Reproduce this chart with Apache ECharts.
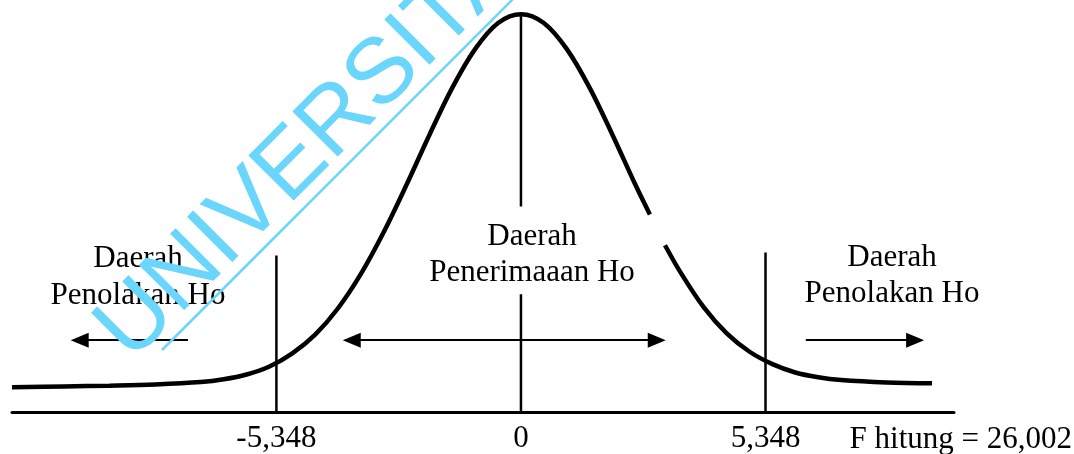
<!DOCTYPE html>
<html>
<head>
<meta charset="utf-8">
<script src="https://cdn.jsdelivr.net/npm/echarts@6/dist/echarts.min.js"></script>
<style>
html,body{margin:0;padding:0;background:#fff;}
#chart{width:1074px;height:454px;}
</style>
</head>
<body>
<div id="chart"></div>
<script>
// ---- data ----
const curveX = [-11.13, -10, -9, -8, -7, -6.5, -6, -5.5, -5, -4.5, -4, -3.5, -3, -2.5, -2, -1.5, -1, -0.5, 0, 0.5, 1, 1.5, 2, 2.5, 2.82, 2.98, 3.15, 3.5, 4, 4.5, 5, 5.5, 6, 6.5, 7, 8, 8.99];
const curveY = [0.062, 0.064, 0.066, 0.069, 0.075, 0.082, 0.094, 0.114, 0.147, 0.194, 0.260, 0.346, 0.451, 0.570, 0.695, 0.813, 0.910, 0.975, 0.997, 0.975, 0.910, 0.813, 0.695, 0.570, 0.495, null, 0.418, 0.348, 0.262, 0.197, 0.151, 0.120, 0.099, 0.087, 0.080, 0.074, 0.072];
const criticalValues = [-5.348, 0, 5.348];
const tickLabels = ['-5,348', '0', '5,348'];
const criticalTops = [0.3925, 0.997, 0.40];
const centerGap = [0.295, 0.515];
const fHitungLabel = 'F hitung = 26,002';
const regionLabels = [
  ['Daerah', 'Penolakan Ho'],
  ['Daerah', 'Penerimaaan Ho'],
  ['Daerah', 'Penolakan Ho']
];
const arrowY = 0.18;
const arrowLeft = [-9.65, -7.28];
const arrowCenter = [-3.70, 2.97];
const arrowRight = [6.23, 8.62];
const watermarkText = 'UNIVERSITA';

// ---- chart ----
const chart = echarts.init(document.getElementById('chart'), null, {renderer: 'canvas'});
const serif = 'Liberation Serif, Times New Roman, serif';
const curveData = curveX.map((x, i) => [x, curveY[i] === null ? '-' : curveY[i]]);

function vLine(x, y0, y1) {
  return {
    type: 'line', data: [[x, y0], [x, y1]], symbol: 'none', silent: true,
    lineStyle: {color: '#000', width: 2.5}, z: 3
  };
}

const tri = 'triangle';
const markData = [
  [{coord: [arrowLeft[0], arrowY], symbol: tri}, {coord: [arrowLeft[1], arrowY], symbol: 'none'}],
  [{coord: [arrowCenter[0], arrowY], symbol: tri}, {coord: [arrowCenter[1], arrowY], symbol: tri}],
  [{coord: [arrowRight[0], arrowY], symbol: 'none'}, {coord: [arrowRight[1], arrowY], symbol: tri}]
];

const series = [
  {
    type: 'line', data: curveData, smooth: 0.35, symbol: 'none', silent: true,
    connectNulls: false,
    lineStyle: {color: '#000', width: 4.5}, z: 4
  },
  vLine(criticalValues[0], 0, criticalTops[0]),
  vLine(criticalValues[2], 0, criticalTops[2]),
  vLine(criticalValues[1], 0, centerGap[0]),
  Object.assign(vLine(criticalValues[1], centerGap[1], criticalTops[1]), {
    markLine: {
      silent: true, animation: false,
      symbolSize: [15, 18],
      lineStyle: {type: 'solid', color: '#000', width: 2},
      label: {show: false},
      emphasis: {disabled: true},
      data: markData
    }
  })
];

const textStyleBase = {fill: '#000', font: '31px ' + serif, align: 'center', verticalAlign: 'middle'};
const labelPos = [
  [138, 259, 296],
  [532, 237, 273],
  [892, 258, 294]
];
const graphics = [];
regionLabels.forEach((lines, i) => {
  graphics.push({type: 'text', x: labelPos[i][0], y: labelPos[i][1], z: 50, silent: true,
    style: Object.assign({}, textStyleBase, {text: lines[0]})});
  graphics.push({type: 'text', x: labelPos[i][0], y: labelPos[i][2], z: 50, silent: true,
    style: Object.assign({}, textStyleBase, {text: lines[1]})});
});
graphics.push({type: 'text', x: 1072, y: 424, z: 50, silent: true,
  style: {text: fHitungLabel, fill: '#000', font: '31px ' + serif, align: 'right', verticalAlign: 'top'}});
// watermark
graphics.push({type: 'text', x: 308, y: 150, rotation: Math.PI / 4, z: 100, silent: true,
  style: {text: watermarkText, fill: '#6ad6fb', font: '93px Liberation Sans, Arial, sans-serif', align: 'center', verticalAlign: 'middle'}});
graphics.push({type: 'line', z: 100, silent: true,
  shape: {x1: 162, y1: 350, x2: 517, y2: -5},
  style: {stroke: '#6ad6fb', lineWidth: 2.5}});

chart.setOption({
  animation: false,
  backgroundColor: '#fff',
  grid: {left: 12, right: 120, top: 13, bottom: 41},
  xAxis: {
    type: 'value', min: -11.13, max: 9.47,
    axisLine: {show: true, onZero: false, lineStyle: {color: '#000', width: 3}},
    axisTick: {show: false},
    splitLine: {show: false},
    axisLabel: {
      customValues: criticalValues,
      formatter: v => tickLabels[criticalValues.indexOf(v)] ?? '',
      fontFamily: serif, fontSize: 31, color: '#000', margin: 11
    }
  },
  yAxis: {type: 'value', min: 0, max: 1, show: false},
  series: series,
  graphic: graphics
});
</script>
</body>
</html>
